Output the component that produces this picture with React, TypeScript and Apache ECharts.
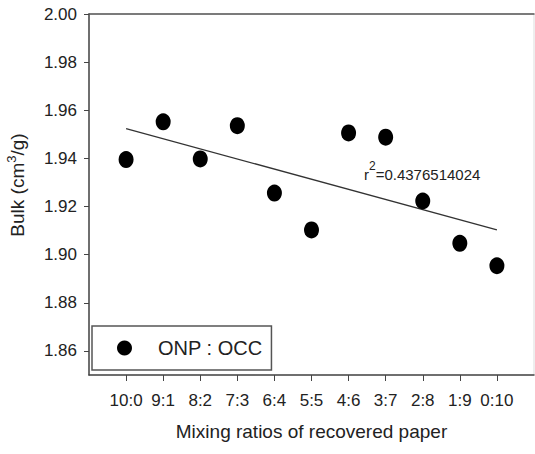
import React, { useEffect, useRef } from "react";
import * as echarts from "echarts";

const categories = ["10:0", "9:1", "8:2", "7:3", "6:4", "5:5", "4:6", "3:7", "2:8", "1:9", "0:10"];
const bulk = [1.9395, 1.9552, 1.9398, 1.9536, 1.9256, 1.9103, 1.9506, 1.9488, 1.9223, 1.9047, 1.8954];
const trendEnds = [1.9524, 1.9103];
const yTicks = [1.86, 1.88, 1.9, 1.92, 1.94, 1.96, 1.98, 2.0];
const seriesName = "ONP : OCC";
const r2Value = "0.4376514024";

const FONT = "'Liberation Sans', Arial, sans-serif";
const TXT = "#222";
const AX = "#444";

export default function App() {
  const ref = useRef<HTMLDivElement>(null);
  useEffect(() => {
    if (!ref.current) return;
    const chart = echarts.init(ref.current, undefined, { renderer: "svg" });
    const xIdx = categories.map((_, i) => i);
    chart.setOption({
      animation: false,
      backgroundColor: "#fff",
      textStyle: { fontFamily: FONT },
      grid: {
        left: 89,
        right: 1,
        top: 14,
        bottom: 79,
        containLabel: false,
        outerBoundsMode: "none",
        show: true,
        borderColor: "#ddd",
        borderWidth: 1,
      },
      legend: {
        left: 92,
        top: 326,
        data: [{ name: seriesName, icon: "circle", itemStyle: { color: "#000", opacity: 1 } }],
        itemWidth: 15,
        itemHeight: 15,
        padding: [12, 9, 12, 25],
        borderColor: "#555",
        borderWidth: 1.5,
        backgroundColor: "#fff",
        textStyle: { fontSize: 20, color: TXT, fontFamily: FONT, padding: [0, 0, 0, 21] },
      },
      xAxis: [
        {
          type: "value",
          min: -1,
          max: 11,
          splitLine: { show: false },
          axisLine: { show: true, onZero: false, lineStyle: { color: AX, width: 1.5 } },
          axisTick: { show: true, length: 6, customValues: xIdx, lineStyle: { color: AX } },
          axisLabel: {
            customValues: xIdx,
            formatter: (v: number) => categories[Math.round(v)] ?? "",
            fontSize: 17,
            color: TXT,
            margin: 17,
            fontFamily: FONT,
          },
          name: "Mixing ratios of recovered paper",
          nameLocation: "middle",
          nameGap: 47,
          nameTextStyle: { fontSize: 19, color: TXT, fontFamily: FONT },
        },
        {
          type: "value",
          position: "top",
          min: -1,
          max: 11,
          splitLine: { show: false },
          axisLine: { show: true, onZero: false, lineStyle: { color: "#555", width: 1.5 } },
          axisTick: { show: false },
          axisLabel: { show: false },
        },
      ],
      yAxis: {
        type: "value",
        min: 1.85,
        max: 2.0,
        splitLine: { show: false },
        axisLine: { show: true, onZero: false, lineStyle: { color: AX, width: 1.5 } },
        axisTick: { show: true, length: 5, customValues: yTicks, lineStyle: { color: AX } },
        axisLabel: {
          customValues: yTicks,
          formatter: (v: number) => v.toFixed(2),
          fontSize: 17,
          color: TXT,
          margin: 12,
          fontFamily: FONT,
        },
        name: "{a|Bulk (cm}{s|3}{a|/g)}",
        nameLocation: "middle",
        nameGap: 62,
        nameTextStyle: {
          fontSize: 19,
          color: TXT,
          fontFamily: FONT,
          padding: [0, 0, 0, 19],
          rich: {
            a: { fontSize: 19, color: TXT, fontFamily: FONT, lineHeight: 22, verticalAlign: "bottom" },
            s: { fontSize: 13, color: TXT, fontFamily: FONT, lineHeight: 22, verticalAlign: "top" },
          },
        },
      },
      series: [
        {
          name: "trend",
          type: "line",
          data: [
            [0, trendEnds[0]],
            [10, trendEnds[1]],
          ],
          showSymbol: false,
          symbol: "none",
          lineStyle: { color: "#333", width: 1.3 },
          silent: true,
          z: 1,
        },
        {
          name: seriesName,
          type: "scatter",
          data: bulk.map((v, i) => [i, v]),
          symbol: "circle",
          symbolSize: [15, 17],
          itemStyle: { color: "#000", opacity: 1 },
          z: 3,
        },
      ],
      graphic: [
        {
          type: "text",
          left: 364,
          top: 160,
          style: {
            text: "{a|r}{s|2}{a|=" + r2Value + "}",
            fill: TXT,
            fontFamily: FONT,
            rich: {
              a: { fontSize: 15, fill: TXT, color: TXT, fontFamily: FONT, lineHeight: 22, verticalAlign: "bottom" },
              s: { fontSize: 12, fill: TXT, color: TXT, fontFamily: FONT, lineHeight: 22, verticalAlign: "top" },
            },
          },
        },
      ],
    });
    return () => chart.dispose();
  }, []);
  return <div ref={ref} style={{ width: 535, height: 454, position: "absolute", left: 0, top: 0 }} />;
}
